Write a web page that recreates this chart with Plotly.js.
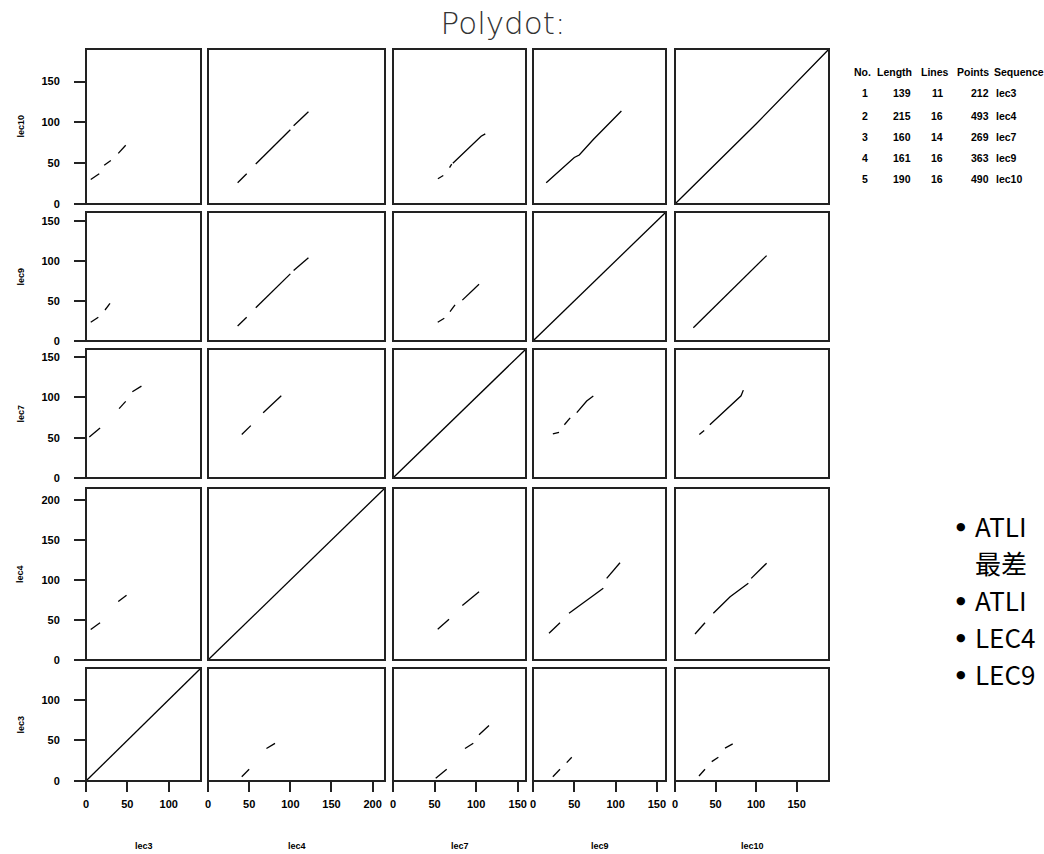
<!DOCTYPE html>
<html>
<head>
<meta charset="utf-8">
<script src="https://cdn.plot.ly/plotly-3.0.1.min.js"></script>
<style>html,body{margin:0;padding:0;background:#fff;overflow:hidden;}</style>
</head>
<body>
<div id="chart" style="width:1044px;height:854px;"></div>
<script>
// ---- sequences (columns left->right, rows bottom->top) ----
const seqNames   = ['lec3', 'lec4', 'lec7', 'lec9', 'lec10'];
const seqLengths = [139, 215, 160, 161, 190];
const seqLines   = [11, 16, 14, 16, 16];
const seqPoints  = [212, 493, 269, 363, 490];
const rowOrder   = ['lec10', 'lec9', 'lec7', 'lec4', 'lec3'];   // top -> bottom
const colOrder   = ['lec3', 'lec4', 'lec7', 'lec9', 'lec10'];   // left -> right

// ---- dot-plot hit segments: dots_<row seq>_<col seq>, each polyline = [[x,y],...] ----
const dots_lec10_lec3  = [[[5.7,30],[16,37]], [[22,47.5],[30,53.4]], [[39,62],[48,72]]];
const dots_lec10_lec4  = [[[36,26],[47,37]], [[58,49],[100,91]], [[104,96],[122,113]]];
const dots_lec10_lec7  = [[[54,31],[60.5,35]], [[68,44.6],[70.6,48.8]], [[72,50],[103,80],[106,83],[111,86]]];
const dots_lec10_lec9  = [[[16,26],[50,57],[56,60],[61,66],[66,72],[73,79],[107,114]]];
const dots_lec10_lec10 = [[[0,0],[100,98],[190,190]]];

const dots_lec9_lec3   = [[[5.7,23.4],[14.9,29.6]], [[23,38.7],[29,47]]];
const dots_lec9_lec4   = [[[36,18.8],[47,29.6]], [[58,41.6],[100,83.8]], [[104,88],[122,104]]];
const dots_lec9_lec7   = [[[53.8,23.4],[61.7,28.4]], [[68.6,36.6],[74.6,45]], [[83.4,51],[94.7,62.5],[103.5,70.9]]];
const dots_lec9_lec9   = [[[0,0],[161,161]]];
const dots_lec9_lec10  = [[[22.6,16.6],[76,70],[80,73.4],[113,106.6]]];

const dots_lec7_lec3   = [[[4,51],[17,62]], [[40,86],[48,95]], [[56,107],[67,114]]];
const dots_lec7_lec4   = [[[41,54],[52,65]], [[67,81],[89,102]]];
const dots_lec7_lec7   = [[[0,0],[160,160]]];
const dots_lec7_lec9   = [[[24,54.6],[31.5,56.6]], [[38,66],[45,74.6]], [[53,81],[65,95.4],[73,101.6]]];
const dots_lec7_lec10  = [[[30,54],[36,59]], [[43,66],[81.5,102],[84.3,109]]];

const dots_lec4_lec3   = [[[5.7,38],[17,46.6]], [[39,73],[49,81]]];
const dots_lec4_lec4   = [[[0,0],[215,215]]];
const dots_lec4_lec7   = [[[53.8,38.4],[67.4,51]], [[83.4,68],[95.4,79],[103.5,85.4]]];
const dots_lec4_lec9   = [[[19.4,33.4],[32.7,46.6]], [[43.6,58.4],[85.1,89.6]], [[89.2,102],[105.3,121.6]]];
const dots_lec4_lec10  = [[[24.7,32.5],[37,46.6]], [[47.3,58.4],[53.5,64.6],[61,73],[68,79],[90.5,96]], [[94,102],[113,121]]];

const dots_lec3_lec3   = [[[0,0],[70,70],[139,139]]];
const dots_lec3_lec4   = [[[41,5.3],[50,14.4]], [[71,40],[81.4,46.3]]];
const dots_lec3_lec7   = [[[51.4,3.3],[64.6,14.4]], [[86.6,40],[96.6,46.5]], [[103.5,56.8],[115.5,68.3]]];
const dots_lec3_lec9   = [[[24,5.3],[32.7,14.4]], [[40.8,22.6],[46.9,29.2]]];
const dots_lec3_lec10  = [[[29.6,6.2],[37,14.4]], [[45.3,23.8],[53.5,29.3]], [[61.7,40.4],[71.2,45.7]]];

const bulletLines  = ['ATLI', '\u6700\u5dee', 'ATLI', 'LEC4', 'LEC9'];
const bulletMarked = [true, false, true, true, true];

const dotTable = {
  lec10: {lec3: dots_lec10_lec3, lec4: dots_lec10_lec4, lec7: dots_lec10_lec7, lec9: dots_lec10_lec9, lec10: dots_lec10_lec10},
  lec9:  {lec3: dots_lec9_lec3,  lec4: dots_lec9_lec4,  lec7: dots_lec9_lec7,  lec9: dots_lec9_lec9,  lec10: dots_lec9_lec10},
  lec7:  {lec3: dots_lec7_lec3,  lec4: dots_lec7_lec4,  lec7: dots_lec7_lec7,  lec9: dots_lec7_lec9,  lec10: dots_lec7_lec10},
  lec4:  {lec3: dots_lec4_lec3,  lec4: dots_lec4_lec4,  lec7: dots_lec4_lec7,  lec9: dots_lec4_lec9,  lec10: dots_lec4_lec10},
  lec3:  {lec3: dots_lec3_lec3,  lec4: dots_lec3_lec4,  lec7: dots_lec3_lec7,  lec9: dots_lec3_lec9,  lec10: dots_lec3_lec10}
};

// ---- layout geometry (pixels) ----
const W = 1044, H = 854;
const colPx = [[86,201],[208,385],[393,526],[533,666],[675,829]];
const rowPx = [[49,204],[212,341],[349,478],[488,660],[668,781]];
const px = v => v / W;
const py = v => (H - v) / H;
const lenOf = n => seqLengths[seqNames.indexOf(n)];

const traces = [];
const shapes = [];
const annotations = [];
const layout = {
  width: W, height: H,
  margin: {l: 0, r: 0, t: 0, b: 0},
  paper_bgcolor: '#fff', plot_bgcolor: '#fff',
  showlegend: false,
  title: {text: 'Polydot:', x: px(503), xanchor: 'center', xref: 'paper', y: py(23), yanchor: 'middle', yref: 'container',
          font: {family: 'DejaVu Sans, Liberation Sans, sans-serif', size: 31, color: '#333', weight: 300}},
  font: {family: 'Liberation Sans, Arial, sans-serif', color: '#000'}
};

const tickFont = {family: 'Liberation Sans, Arial, sans-serif', size: 11, color: '#000', weight: 'bold'};

colOrder.forEach((c, ci) => {
  const key = ci === 0 ? 'xaxis' : 'xaxis' + (ci + 1);
  layout[key] = {
    domain: [px(colPx[ci][0]), px(colPx[ci][1])],
    range: [0, lenOf(c)], anchor: 'y5',
    showgrid: false, zeroline: false, showline: false,
    ticks: 'outside', ticklen: 10, tickwidth: 2, tickcolor: '#222',
    tick0: 0, dtick: 50, tickfont: tickFont, ticklabelstandoff: 3,
    fixedrange: true, automargin: false
  };
  annotations.push({text: c, xref: 'x' + (ci === 0 ? '' : ci + 1) + ' domain', x: 0.5, yref: 'paper', y: py(846),
    showarrow: false, xanchor: 'center', yanchor: 'middle',
    font: {family: 'Liberation Sans, Arial, sans-serif', size: 9, color: '#000', weight: 'bold'}});
});

rowOrder.forEach((r, ri) => {
  const key = ri === 0 ? 'yaxis' : 'yaxis' + (ri + 1);
  layout[key] = {
    domain: [py(rowPx[ri][1]), py(rowPx[ri][0])],
    range: [0, lenOf(r)], anchor: 'x',
    showgrid: false, zeroline: false, showline: false,
    ticks: 'outside', ticklen: 11, tickwidth: 2, tickcolor: '#222',
    tick0: 0, dtick: 50, tickfont: tickFont, ticklabelstandoff: 12,
    fixedrange: true, automargin: false
  };
  annotations.push({text: r, yref: 'y' + (ri === 0 ? '' : ri + 1) + ' domain', y: 0.5, xref: 'paper', x: px(20),
    showarrow: false, textangle: -90, xanchor: 'center', yanchor: 'middle',
    font: {family: 'Liberation Sans, Arial, sans-serif', size: 9, color: '#000', weight: 'bold'}});
});

rowOrder.forEach((r, ri) => {
  colOrder.forEach((c, ci) => {
    const xs = [], ys = [];
    dotTable[r][c].forEach(seg => {
      seg.forEach(p => { xs.push(p[0]); ys.push(p[1]); });
      xs.push(null); ys.push(null);
    });
    const xa = 'x' + (ci === 0 ? '' : ci + 1);
    const ya = 'y' + (ri === 0 ? '' : ri + 1);
    traces.push({x: xs, y: ys, xaxis: xa, yaxis: ya, type: 'scatter', mode: 'lines',
      line: {color: '#000', width: 1.3}, hoverinfo: 'skip', connectgaps: false});
    shapes.push({type: 'rect', xref: xa + ' domain', yref: ya + ' domain', x0: 0, x1: 1, y0: 0, y1: 1,
      line: {color: '#222', width: 2}, fillcolor: 'rgba(0,0,0,0)', layer: 'above'});
  });
});

// ---- info table ----
const tblFont = {family: 'Liberation Sans, Arial, sans-serif', size: 10.5, color: '#000', weight: 'bold'};
const hdrY = 72;
const rowYs = [93, 116, 137, 158, 179];
const addTxt = (t, x, y, anchor) => annotations.push({text: String(t), xref: 'paper', yref: 'paper', x: px(x), y: py(y),
  showarrow: false, xanchor: anchor, yanchor: 'middle', font: tblFont});
addTxt('No.', 852, hdrY, 'left');
addTxt('Length', 875, hdrY, 'left');
addTxt('Lines', 919, hdrY, 'left');
addTxt('Points', 955, hdrY, 'left');
addTxt('Sequence', 992, hdrY, 'left');
seqNames.forEach((n, i) => {
  addTxt(i + 1, 865, rowYs[i], 'center');
  addTxt(seqLengths[i], 913, rowYs[i], 'right');
  addTxt(seqLines[i], 937, rowYs[i], 'center');
  addTxt(seqPoints[i], 991, rowYs[i], 'right');
  addTxt(n, 994, rowYs[i], 'left');
});

// ---- bullet text on right ----
const bulletYs = [525, 562, 599, 636, 673];
bulletLines.forEach((t, i) => {
  if (bulletMarked[i]) {
    annotations.push({text: '\u25CF', xref: 'paper', yref: 'paper', x: px(961), y: py(bulletYs[i] + 1),
      showarrow: false, xanchor: 'center', yanchor: 'middle',
      font: {family: 'DejaVu Sans, sans-serif', size: 11, color: '#000'}});
  }
  annotations.push({text: t, xref: 'paper', yref: 'paper', x: px(973), y: py(bulletYs[i]),
    showarrow: false, xanchor: 'left', yanchor: 'middle',
    font: {family: 'Noto Sans CJK SC, Noto Sans, sans-serif', size: 26, color: '#000'}});
});

layout.shapes = shapes;
layout.annotations = annotations;

Plotly.newPlot('chart', traces, layout, {displayModeBar: false, staticPlot: true});
</script>
</body>
</html>
